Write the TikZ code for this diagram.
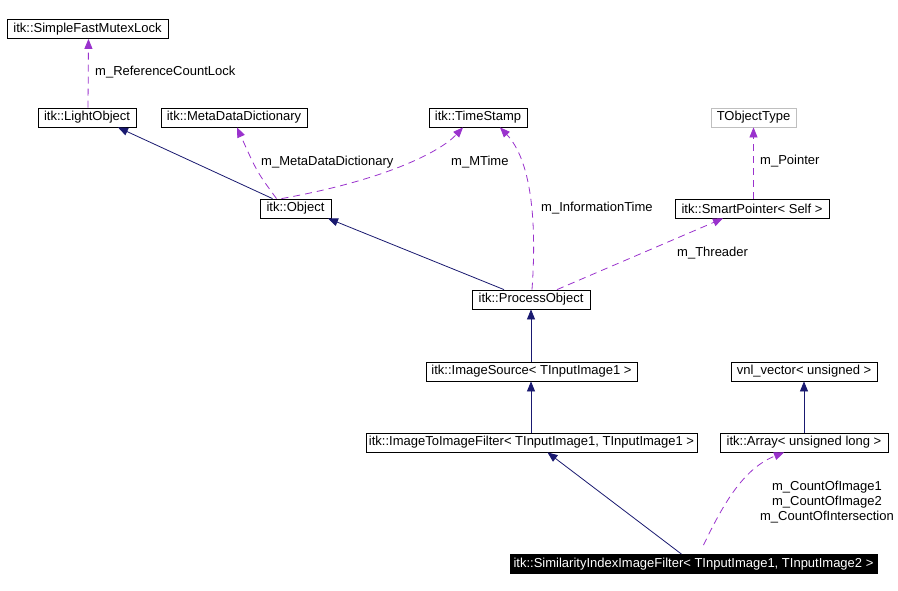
\documentclass[tikz,border=0pt]{standalone}
\usepackage{fontspec}
\setmainfont{Liberation Sans}
\usetikzlibrary{arrows.meta,calc}
\definecolor{edgeblue}{HTML}{191970}
\definecolor{edgepurple}{HTML}{9A32CD}
\definecolor{boxgray}{HTML}{BFBFBF}
\begin{document}
\begin{tikzpicture}[x=1pt,y=-1pt,
  cls/.style={draw=black,line width=0.8pt,minimum height=19pt,inner sep=0pt,
              font=\fontsize{13}{15}\selectfont,anchor=center},
  inh/.style={draw=edgeblue,line width=0.8pt,-{Triangle[length=10pt,width=8pt]}},
  use/.style={draw=edgepurple,line width=0.8pt,dash pattern=on 7pt off 5pt,
              -{Triangle[length=10pt,width=8pt]}},
  lbl/.style={font=\fontsize{13}{15}\selectfont,anchor=west,inner sep=0pt}]
\useasboundingbox[fill=white] (0,0) rectangle (898,590);

% classes
\node[cls,minimum width=161pt] (sfml) at (87.5,29)   {itk::SimpleFastMutexLock};
\node[cls,minimum width=98pt]  (light) at (87,117.5) {itk::LightObject};
\node[cls,minimum width=146pt] (meta) at (234,117.5) {itk::MetaDataDictionary};
\node[cls,minimum width=98pt]  (ts)   at (478,117.5) {itk::TimeStamp};
\node[cls,draw=boxgray,minimum width=85pt] (tot) at (753.5,117.5) {TObjectType};
\node[cls,minimum width=71pt]  (obj)  at (295.5,208.5) {itk::Object};
\node[cls,minimum width=154pt] (sp)   at (752,208.5) {itk::SmartPointer< Self >};
\node[cls,minimum width=118pt] (po)   at (531,299.5) {itk::ProcessObject};
\node[cls,minimum width=211pt] (is)   at (531.5,371.5) {itk::ImageSource< TInputImage1 >};
\node[cls,minimum width=146pt] (vnl)  at (804,371.5) {vnl\_vector< unsigned >};
\node[cls,minimum width=331pt] (iti)  at (531.5,442.5) {itk::ImageToImageFilter< TInputImage1, TInputImage1 >};
\node[cls,minimum width=168pt] (arr)  at (804,442.5) {itk::Array< unsigned long >};
\node[cls,fill=black,text=white,minimum width=367pt] (sim) at (693.5,564)
  {itk::SimilarityIndexImageFilter< TInputImage1, TInputImage2 >};

% inheritance edges
\draw[inh] ($(obj.north)+(-23,0)$) -- ($(light.south)+(31,0)$);
\draw[inh] ($(po.north)+(-27,0)$) -- ($(obj.south)+(32.5,0)$);
\draw[inh] (is.north -| po.south) -- (po.south);
\draw[inh] (iti.north -| po.south) -- (is.south -| po.south);
\draw[inh] (arr.north) -- (vnl.south);
\draw[inh] ($(sim.north)+(-12,0)$) -- ($(iti.south)+(16,0)$);

% usage edges
\draw[use] ($(light.north)+(1,0)$) -- ($(sfml.south)+(1,0)$);
\node[lbl] (lref) at (95,72) {m\_ReferenceCountLock};

\draw[use] ($(obj.north)+(-19,0)$) .. controls (257,172) .. ($(meta.south)+(3,0)$);
\node[lbl] (lmeta) at (261,162) {m\_MetaDataDictionary};

\draw[use] ($(obj.north)+(-14,0)$) .. controls (385,180) and (440,152) .. ($(ts.south)+(-15,0)$);
\node[lbl] (lmtime) at (451,162) {m\_MTime};

\draw[use] ($(po.north)+(1,0)$) .. controls (537,220) and (531,160) .. ($(ts.south)+(22,0)$);
\node[lbl] (linfo) at (541,208) {m\_InformationTime};

\draw[use] ($(po.north)+(26,0)$) -- ($(sp.south)+(-29,0)$);
\node[lbl] (lthr) at (677,253) {m\_Threader};

\draw[use] (sp.north -| tot.south) -- (tot.south);
\node[lbl] (lptr) at (760,161) {m\_Pointer};

\draw[use] ($(sim.north)+(10,-9)$) .. controls (725,500) and (745,468) .. ($(arr.south)+(-20,0)$);
\node[font=\fontsize{13}{15}\selectfont,align=center,inner sep=0pt] (lcount) at (827,502)
  {m\_CountOfImage1\\m\_CountOfImage2\\m\_CountOfIntersection};
\end{tikzpicture}
\end{document}
